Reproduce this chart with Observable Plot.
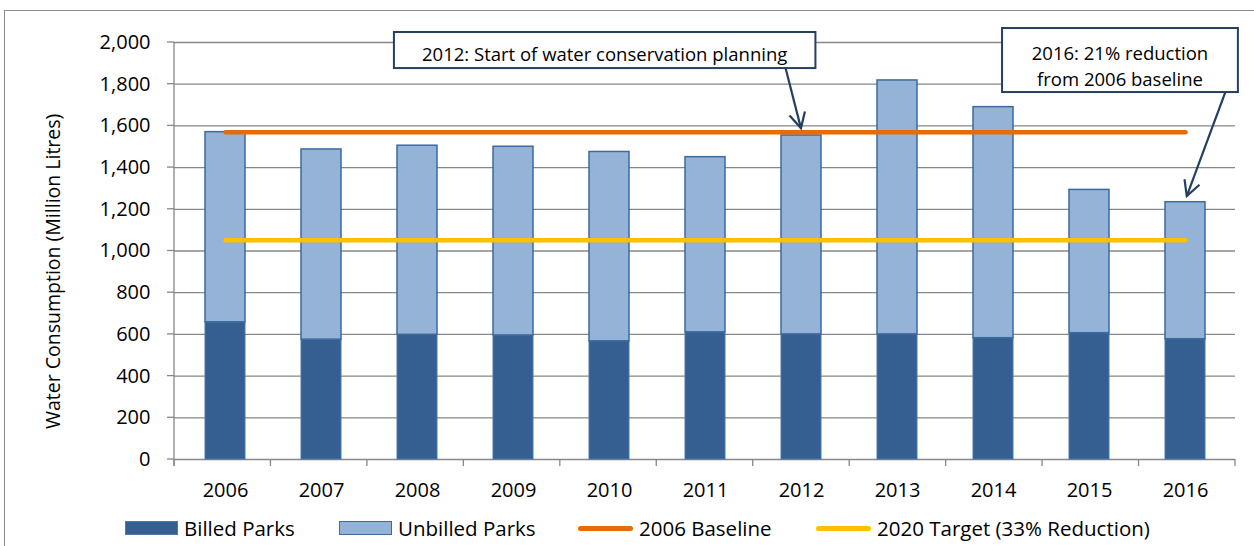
<!DOCTYPE html>
<html><head><meta charset="utf-8">
<script src="https://cdn.jsdelivr.net/npm/d3@7"></script>
<script src="https://cdn.jsdelivr.net/npm/@observablehq/plot@0.6"></script>
<style>
html,body{margin:0;padding:0;background:#fff}
body{width:1254px;height:546px;overflow:hidden;position:relative;font-family:"Open Sans",sans-serif;color:#000}
#frame{position:absolute;left:4px;top:10px;width:1400px;height:700px;border-left:1.5px solid #8c8c8c;border-top:1.5px solid #8c8c8c;box-sizing:border-box}
#chart{position:absolute;left:0;top:0}
#legend{position:absolute;left:0;top:514px;width:1254px;height:28px;font-size:20.5px;line-height:28px;white-space:nowrap}
#legend .item{position:absolute;top:0;height:28px;display:flex;align-items:center}
#legend .sw{width:53px;height:14px;box-sizing:border-box;margin-right:6px}
#legend .ln{width:55px;height:5px;border-radius:3px;margin-right:6px}
</style></head>
<body>
<div id="frame"></div>
<div id="chart"></div>
<div id="legend"></div>
<script>
// ---- data ----
const years = [2006, 2007, 2008, 2009, 2010, 2011, 2012, 2013, 2014, 2015, 2016];
const billedParks = [658, 575, 598, 595, 567, 610, 600, 600, 582, 606, 577];
const unbilledParks = [912, 912, 907, 905, 908, 840, 954, 1218, 1108, 687, 657];
const baseline2006 = 1570;
const target2020 = 1052;
const yTicks = [0, 200, 400, 600, 800, 1000, 1200, 1400, 1600, 1800, 2000];
const seriesNames = ["Billed Parks", "Unbilled Parks", "2006 Baseline", "2020 Target (33% Reduction)"];
const yLabel = "Water Consumption (Million Litres)";
const notes = [
  {lines: ["2012: Start of water conservation planning"], year: 2012, value: 1587},
  {lines: ["2016: 21% reduction", "from 2006 baseline"], year: 2016, value: 1261}
];

// ---- styles ----
const colBilled = "#365F91", colBilledStroke = "#4d78ab";
const colUnbilled = "#95B3D7", colUnbilledStroke = "#3d6a9f";
const colBase = "#E46C0A", colTarget = "#FFC000";
const gridColor = "#878787", noteColor = "#243F60";

const rows = years.map((year, i) => ({
  year, billed: billedParks[i], unbilled: unbilledParks[i],
  baseline: baseline2006, target: target2020
}));

function decor(index, {y}, values, dims) {
  const {width, marginLeft, marginRight} = dims;
  const step = (width - marginLeft - marginRight) / years.length;
  const g = d3.create("svg:g");
  const yb = y(0), yt = y(yTicks[yTicks.length - 1]);
  const tl = 7;
  g.append("line").attr("x1", marginLeft).attr("x2", marginLeft)
    .attr("y1", yt).attr("y2", yb + tl).attr("stroke", gridColor).attr("stroke-width", 1.3);
  for (const t of yTicks) {
    g.append("line").attr("x1", marginLeft - tl).attr("x2", marginLeft)
      .attr("y1", y(t)).attr("y2", y(t)).attr("stroke", gridColor).attr("stroke-width", 1.3);
  }
  for (let i = 0; i <= years.length; i++) {
    const xx = marginLeft + i * step;
    g.append("line").attr("x1", xx).attr("x2", xx)
      .attr("y1", yb).attr("y2", yb + tl).attr("stroke", gridColor).attr("stroke-width", 1.3);
  }
  g.append("text")
    .attr("transform", `translate(53,${y(900)}) rotate(-90)`)
    .attr("text-anchor", "middle").attr("dy", "0.35em")
    .attr("font-size", 19.5).attr("fill", "#000").text(yLabel);
  return g.node();
}

function annotate(index, {y}, values, dims) {
  const {width, marginLeft, marginRight} = dims;
  const step = (width - marginLeft - marginRight) / years.length;
  const px = yr => marginLeft + (yr - years[0] + 0.5) * step;
  const g = d3.create("svg:g");
  // layout of each callout (box in year/value units, arrow start)
  const layout = [
    {box: [2007.78, 2012.15, 2048, 1875], from: [2011.84, 1875], fs: 18.5, lineY: [1940]},
    {box: [2014.085, 2016.53, 2067, 1760], from: [2016.4, 1760], fs: 18.5, lineY: [1945, 1822]}
  ];
  notes.forEach((n, k) => {
    const L = layout[k];
    const x1 = px(L.box[0]), x2 = px(L.box[1]), y1 = y(L.box[2]), y2 = y(L.box[3]);
    g.append("rect").attr("x", x1).attr("y", y1).attr("width", x2 - x1).attr("height", y2 - y1)
      .attr("fill", "#fff").attr("stroke", noteColor).attr("stroke-width", 2);
    n.lines.forEach((t, j) => {
      g.append("text").attr("x", (x1 + x2) / 2).attr("y", y(L.lineY[j])).attr("dy", "0.35em")
        .attr("text-anchor", "middle").attr("font-size", L.fs).attr("fill", "#000").text(t);
    });
    const sx = px(L.from[0]), sy = y(L.from[1]);
    const tx = px(n.year), ty = y(n.value);
    g.append("line").attr("x1", sx).attr("y1", sy).attr("x2", tx).attr("y2", ty)
      .attr("stroke", noteColor).attr("stroke-width", 2.2);
    const ang = Math.atan2(ty - sy, tx - sx), a = 28 * Math.PI / 180, len = 17;
    const p1 = [tx - len * Math.cos(ang - a), ty - len * Math.sin(ang - a)];
    const p2 = [tx - len * Math.cos(ang + a), ty - len * Math.sin(ang + a)];
    g.append("path").attr("d", `M${p1}L${tx},${ty}L${p2}`).attr("fill", "none")
      .attr("stroke", noteColor).attr("stroke-width", 2.2).attr("stroke-linejoin", "miter");
  });
  return g.node();
}

const chart = Plot.plot({
  width: 1254, height: 505,
  marginLeft: 174, marginRight: 19, marginTop: 42, marginBottom: 46,
  style: {fontFamily: "'Open Sans', sans-serif", fontSize: "20px", color: "#000", background: "transparent", overflow: "visible"},
  x: {type: "band", domain: years, padding: 0, tickSize: 0, tickPadding: 23, label: null, tickFormat: d => String(d)},
  y: {domain: [0, 2000], ticks: yTicks, tickFormat: d3.format(","), tickSize: 0, tickPadding: 24, label: null},
  marks: [
    Plot.ruleY(yTicks, {stroke: gridColor, strokeWidth: 1.3}),
    Plot.barY(rows, {x: "year", y1: 0, y2: "billed", fill: colBilled, stroke: colBilledStroke, strokeWidth: 1, insetLeft: 28, insetRight: 28}),
    Plot.barY(rows, {x: "year", y1: "billed", y2: d => d.billed + d.unbilled, fill: colUnbilled, stroke: colUnbilledStroke, strokeWidth: 1.5, insetLeft: 28, insetRight: 28}),
    Plot.line(rows, {x: "year", y: "baseline", stroke: colBase, strokeWidth: 4.5, strokeLinecap: "round"}),
    Plot.line(rows, {x: "year", y: "target", stroke: colTarget, strokeWidth: 4.5, strokeLinecap: "round"}),
    decor,
    annotate
  ]
});
document.getElementById("chart").appendChild(chart);

// legend
const legend = d3.select("#legend");
const legendSpec = [
  {name: seriesNames[0], kind: "sw", fill: colBilled, stroke: colBilledStroke, left: 125},
  {name: seriesNames[1], kind: "sw", fill: colUnbilled, stroke: colUnbilledStroke, left: 339},
  {name: seriesNames[2], kind: "ln", fill: colBase, left: 578},
  {name: seriesNames[3], kind: "ln", fill: colTarget, left: 816}
];
legendSpec.forEach(s => {
  const it = legend.append("div").attr("class", "item").style("left", s.left + "px");
  const sw = it.append("div").attr("class", s.kind).style("background", s.fill);
  if (s.stroke) sw.style("border", `1.5px solid ${s.stroke}`);
  it.append("span").text(s.name);
});
</script>
</body></html>
